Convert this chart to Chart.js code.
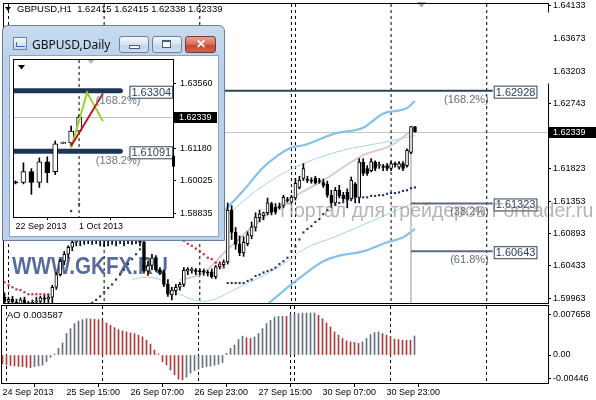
<!DOCTYPE html>
<html>
<head>
<meta charset="utf-8">
<script src="https://cdn.jsdelivr.net/npm/chart.js@4.4.0/dist/chart.umd.min.js"></script>
<style>
  body { margin: 0; width: 596px; height: 400px; overflow: hidden; background: #fff; position: relative; font-family: "Liberation Sans", Arial, sans-serif; }
  canvas { position: absolute; }
  #main { left: 0; top: 0; }
  #ao { left: 0; top: 305px; }
  #win { position: absolute; left: 2px; top: 25px; width: 221px; height: 214px; border: 1px solid #6b7f9c; border-radius: 6px 6px 0 0;
         background: linear-gradient(#c7daef, #b9d1ea 40px, #b9d1ea); }
  #wtitle { position: absolute; left: 29px; top: 10px; font: 12px "Noto Sans", "Liberation Sans", sans-serif; color: #111; }
  #wicon { position: absolute; left: 10px; top: 11px; width: 12px; height: 11px; border: 1px solid #6f8198; background: linear-gradient(#f4f8fc, #c9d9ea); }
  #wicon:after { content: ""; position: absolute; left: 2px; top: 4px; width: 8px; height: 4px; border-left: 1px solid #3c6fa8; border-bottom: 1px solid #3c6fa8; }
  .btn { position: absolute; top: 10px; height: 15px; border: 1px solid #6d7f9a; border-radius: 3px; background: linear-gradient(#f3f7fc, #d5e2f1 50%, #c2d4ea 51%, #cfdef0); }
  #bmin { left: 116px; width: 28px; }
  #bmax { left: 149px; width: 28px; }
  #bclose { left: 182px; width: 29px; border-color: #7a3a30; background: linear-gradient(#e9a596, #d46a55 50%, #c4452e 51%, #d2644c); color: #fff; font: bold 12px "Liberation Sans", sans-serif; text-align: center; line-height: 15px; }
  #bmin:after { content: ""; position: absolute; left: 9px; top: 8px; width: 9px; height: 2px; border: 1px solid #4a5d78; background: #fff; }
  #bmax:after { content: ""; position: absolute; left: 9px; top: 3px; width: 7px; height: 5px; border: 1px solid #4a5d78; border-top-width: 2px; background: #fff; }
  #client { position: absolute; left: 6px; top: 29px; width: 208px; height: 180px; background: #fff; border: 1px solid #8fa3bf; }
  #daily { left: 10px; top: 56px; }
</style>
</head>
<body>
<canvas id="main" width="596" height="307"></canvas>
<canvas id="ao" width="596" height="95"></canvas>
<div id="win">
  <div id="wicon"></div>
  <div id="wtitle">GBPUSD,Daily</div>
  <div class="btn" id="bmin"></div>
  <div class="btn" id="bmax"></div>
  <div class="btn" id="bclose">✕</div>
  <div id="client"></div>
</div>
<canvas id="daily" width="207" height="179"></canvas>
<script>
// ---------- GBPUSD H1, bar 0 = 24 Sep 2013 23:00 ----------
const h1Open = [
  1.5999, 1.5993, 1.5996, 1.5992, 1.5989, 1.5995, 1.5991, 1.5988, 1.5992, 1.5993,
  1.5998, 1.5996, 1.5999, 1.6013, 1.6031, 1.6050, 1.6060, 1.6070, 1.6077, 1.6085,
  1.6081, 1.6089, 1.6092, 1.6084, 1.6086, 1.6081, 1.6084, 1.6079, 1.6084, 1.6081,
  1.6082, 1.6085, 1.6079, 1.6084, 1.6081, 1.6077, 1.6036, 1.6044, 1.6055, 1.6038,
  1.6034, 1.6017, 1.6002, 1.6008, 1.6013, 1.6017, 1.6036, 1.6037, 1.6036, 1.6036,
  1.6035, 1.6033, 1.6035, 1.6028, 1.6042, 1.6045, 1.6049, 1.6123, 1.6091, 1.6074,
  1.6062, 1.6075, 1.6086, 1.6098, 1.6112, 1.6115, 1.6119, 1.6132, 1.6127, 1.6127,
  1.6129, 1.6137, 1.6134, 1.6140, 1.6155, 1.6168, 1.6167, 1.6165, 1.6168, 1.6164,
  1.6162, 1.6160, 1.6144, 1.6133, 1.6151, 1.6144, 1.6148, 1.6139, 1.6160, 1.6141,
  1.6191, 1.6182, 1.6179, 1.6191, 1.6186, 1.6184, 1.6186, 1.6182, 1.6188, 1.6184,
  1.6189, 1.6186, 1.6205, 1.62415
];
const h1High = [
  1.6005, 1.5999, 1.6000, 1.5996, 1.5998, 1.5999, 1.5993, 1.5995, 1.5999, 1.6000,
  1.6002, 1.6003, 1.6016, 1.6034, 1.6053, 1.6064, 1.6072, 1.6081, 1.6091, 1.6095,
  1.6098, 1.6100, 1.6098, 1.6091, 1.6093, 1.6089, 1.6088, 1.6086, 1.6089, 1.6086,
  1.6091, 1.6088, 1.6086, 1.6089, 1.6086, 1.6086, 1.6050, 1.6060, 1.6058, 1.6041,
  1.6037, 1.6024, 1.6013, 1.6017, 1.6020, 1.6041, 1.6041, 1.6041, 1.6040, 1.6039,
  1.6039, 1.6037, 1.6039, 1.6044, 1.6049, 1.6052, 1.6133, 1.6129, 1.6098, 1.6086,
  1.6085, 1.6092, 1.6106, 1.6119, 1.6123, 1.6120, 1.6140, 1.6134, 1.6132, 1.6133,
  1.6144, 1.6141, 1.6144, 1.6168, 1.6171, 1.6189, 1.6171, 1.6169, 1.6171, 1.6168,
  1.6167, 1.6164, 1.6151, 1.6155, 1.6158, 1.6148, 1.6153, 1.6170, 1.6162, 1.6196,
  1.6196, 1.6186, 1.6196, 1.6193, 1.6191, 1.6188, 1.6189, 1.6192, 1.6191, 1.6192,
  1.6192, 1.6210, 1.6242, 1.62415
];
const h1Low = [
  1.5988, 1.5985, 1.5988, 1.5982, 1.5984, 1.5986, 1.5981, 1.5979, 1.5986, 1.5988,
  1.5991, 1.5989, 1.5988, 1.6010, 1.6029, 1.6045, 1.6055, 1.6065, 1.6072, 1.6072,
  1.6074, 1.6075, 1.6074, 1.6075, 1.6072, 1.6071, 1.6072, 1.6074, 1.6072, 1.6075,
  1.6072, 1.6075, 1.6074, 1.6075, 1.6072, 1.6033, 1.6030, 1.6038, 1.6036, 1.6031,
  1.6014, 1.6000, 1.5995, 1.6002, 1.6009, 1.6014, 1.6031, 1.6033, 1.6031, 1.6031,
  1.6030, 1.6029, 1.6026, 1.6025, 1.6039, 1.6042, 1.6046, 1.6081, 1.6067, 1.6058,
  1.6057, 1.6072, 1.6082, 1.6093, 1.6106, 1.6109, 1.6116, 1.6116, 1.6117, 1.6124,
  1.6126, 1.6134, 1.6133, 1.6137, 1.6153, 1.6165, 1.6162, 1.6161, 1.6160, 1.6161,
  1.6155, 1.6141, 1.6129, 1.6130, 1.6140, 1.6136, 1.6126, 1.6136, 1.6133, 1.6133,
  1.6172, 1.6172, 1.6177, 1.6179, 1.6182, 1.6179, 1.6179, 1.6179, 1.6184, 1.6181,
  1.6179, 1.6184, 1.6203, 1.62338
];
const h1Close = [
  1.5993, 1.5996, 1.5992, 1.5989, 1.5995, 1.5991, 1.5988, 1.5992, 1.5993, 1.5998,
  1.5996, 1.5999, 1.6013, 1.6031, 1.6050, 1.6060, 1.6070, 1.6077, 1.6085, 1.6081,
  1.6089, 1.6092, 1.6084, 1.6086, 1.6081, 1.6084, 1.6079, 1.6084, 1.6081, 1.6082,
  1.6085, 1.6079, 1.6084, 1.6081, 1.6077, 1.6036, 1.6044, 1.6055, 1.6038, 1.6034,
  1.6017, 1.6003, 1.6009, 1.6013, 1.6017, 1.6037, 1.6039, 1.60375, 1.60355, 1.6035,
  1.60345, 1.6033, 1.6028, 1.6042, 1.6046, 1.6049, 1.6123, 1.6091, 1.6074, 1.6062,
  1.6077, 1.6088, 1.6099, 1.6113, 1.6117, 1.6119, 1.6133, 1.6120, 1.6120, 1.61265,
  1.6141, 1.61365, 1.6141, 1.6161, 1.6165, 1.6182, 1.6165, 1.6164, 1.6162, 1.61635,
  1.6158, 1.6144, 1.6133, 1.6151, 1.6143, 1.6139, 1.6137, 1.6165, 1.6141, 1.6191,
  1.6175, 1.6175, 1.6192, 1.6182, 1.61865, 1.61835, 1.6182, 1.6189, 1.61875, 1.6189,
  1.6182, 1.6208, 1.62415, 1.62339
];

// Awesome Oscillator histogram
const aoValues = [
  -0.00168, -0.00187, -0.00199, -0.00206, -0.00212, -0.00218, -0.00231, -0.00237, -0.00218, -0.00206,
  -0.00193, -0.00125, -0.00044, 0.00019, 0.00125, 0.00231, 0.00405, 0.00498, 0.00592, 0.00642,
  0.00667, 0.00685, 0.00679, 0.00673, 0.00667, 0.00642, 0.00604, 0.00561, 0.00517, 0.00480,
  0.00455, 0.00436, 0.00417, 0.00405, 0.00374, 0.00343, 0.00280, 0.00206, 0.00093, 0.00019,
  -0.00125, -0.00187, -0.00280, -0.00374, -0.00455, -0.00467, -0.00417, -0.00343, -0.00293, -0.00268,
  -0.00237, -0.00218, -0.00212, -0.00193, -0.00174, -0.00143, 0.00031, 0.00125, 0.00187, 0.00293,
  0.00355, 0.00324, 0.00312, 0.00343, 0.00405, 0.00498, 0.00592, 0.00654, 0.00716, 0.00729,
  0.00732, 0.00729, 0.00766, 0.00779, 0.00780, 0.00791, 0.00792, 0.00793, 0.00794, 0.00748,
  0.00685, 0.00604, 0.00530, 0.00436, 0.00374, 0.00312, 0.00268, 0.00249, 0.00237, 0.00218,
  0.00249, 0.00312, 0.00386, 0.00424, 0.00436, 0.00405, 0.00374, 0.00343, 0.00299, 0.00293,
  0.00280, 0.00278, 0.00276, 0.003587
];

// dotted trailing indicator: red above price, navy below
const dotsRed = [
  1.6020, 1.6016, 1.6013, 1.6010, 1.6009, 1.6006, 1.6003, 1.6003, 1.6003, 1.6003,
  1.6003, 1.6003, null, null, null, null, null, null, null, null,
  null, null, null, null, null, null, null, null, null, null,
  null, null, null, null, null, 1.6100, 1.6099, 1.6098, 1.6096, 1.6095,
  1.6093, 1.6092, 1.6089, 1.6086, 1.6084, 1.6079, 1.6075, 1.6072, 1.6068, 1.6064,
  1.6060, 1.6055, 1.6053, 1.6048, 1.6046, 1.6041, null, null, null, null,
  null, null, null, null, null, null, null, null, null, null,
  null, null, null, null, null, null, null, null, null, null,
  null, null, null, null, null, null, null, null, null, null,
  null, null, null, null, null, null, null, null, null, null,
  null, null, null, null
];
const dotsBlue = [
  null, null, null, null, null, null, null, null, null, null,
  null, null, 1.5974, 1.5975, 1.5977, 1.5978, 1.5979, 1.5981, 1.5982, 1.5984,
  1.5986, 1.5988, 1.5991, 1.5995, 1.6000, 1.6006, 1.6012, 1.6017, 1.6024, 1.6031,
  1.6038, 1.6046, 1.6053, 1.6060, 1.6067, null, null, null, null, null,
  null, null, null, null, null, null, null, null, null, null,
  null, null, null, null, null, null, 1.6019, 1.6019, 1.6019, 1.6019,
  1.6019, 1.6022, 1.6024, 1.6029, 1.6031, 1.6034, 1.6036, 1.6038, 1.6041, 1.6046,
  1.6050, 1.6055, 1.6064, 1.6071, 1.6081, 1.6091, 1.6096, 1.6100, 1.6106, 1.6110,
  1.6117, 1.6123, 1.6127, 1.6130, 1.6133, 1.6134, 1.6137, 1.6139, 1.6140, 1.6140,
  1.6141, 1.6141, 1.6143, 1.6143, 1.6144, 1.6144, 1.6146, 1.6147, 1.6147, 1.6148,
  1.6150, 1.6151, 1.6154, 1.6155
];

// band lines, read at a few bars
const envUpperBars = [50, 56, 60, 65, 72, 75, 83, 90, 95, 101, 103];
const envUpperVals = [1.6098, 1.6127, 1.6151, 1.6184, 1.6212, 1.6215, 1.6232, 1.6240, 1.6260, 1.6268, 1.6278];
const envLowerBars = [60, 66, 70, 74, 80, 84, 90, 96, 100, 103];
const envLowerVals = [1.5961, 1.5989, 1.6008, 1.6026, 1.6050, 1.6058, 1.6064, 1.6077, 1.6084, 1.6096];
const bbUpperBars = [50, 56, 65, 75, 85, 95, 103];
const bbUpperVals = [1.6081, 1.6116, 1.6158, 1.6189, 1.6208, 1.6219, 1.6229];
const bbLowerBars = [32, 35, 39, 41, 44, 47, 50, 54, 57, 63, 70, 75, 83, 90, 103];
const bbLowerVals = [1.6024, 1.6027, 1.6024, 1.6013, 1.6003, 1.5996, 1.5993, 1.5999, 1.6008, 1.6024, 1.6046, 1.6067, 1.6085, 1.6102, 1.6134];
const maBars = [44, 50, 56, 62, 70, 80, 90, 97, 103];
const maVals = [1.6023, 1.6034, 1.6067, 1.6098, 1.6133, 1.6165, 1.6201, 1.6215, 1.6240];

// fibo expansion object
const fiboLevels = [1.62928, 1.61323, 1.60643];
const fiboText = ['(168.2%)', '(38.2%)', '(61.8%)'];
const fiboFrom = [-2, 102, 102];
const fiboTo = 122.5;
const fiboBaseBar = 102;
const fiboBaseTop = 1.6205;

const separatorBars = [1, 25, 49, 72, 73, 97, 121];
const xTickBars = [0, 16, 32, 48, 64, 80, 96];
const xTickLabels = ['24 Sep 2013', '25 Sep 15:00', '26 Sep 07:00', '26 Sep 23:00', '27 Sep 15:00', '30 Sep 07:00', '30 Sep 23:00'];
const priceTicks = [1.64133, 1.63673, 1.63203, 1.62743, 1.62283, 1.61823, 1.61353, 1.60893, 1.60433, 1.59963];
const aoTicks = [0.007658, 0, -0.00446];
const aoTickLabels = ['0.007658', '0.00', '-0.00446'];
const axisMark = [1.6404, 1.6303];

// ---------- GBPUSD Daily (inset), bar 0 = 22 Sep 2013 ----------
const dOpen = [1.5998, 1.5995, 1.6035, 1.5995, 1.6071, 1.6035, 1.6138, 1.6140, 1.6183];
const dHigh = [1.6001, 1.6067, 1.6046, 1.6085, 1.6089, 1.6147, 1.6143, 1.6201, 1.62415];
const dLow = [1.5990, 1.5990, 1.5952, 1.5977, 1.5995, 1.6024, 1.6137, 1.6129, 1.6181];
const dClose = [1.5994, 1.6035, 1.5995, 1.6071, 1.6031, 1.6136, 1.6140, 1.6183, 1.62339];
const dTicks = [1.63560, 1.62370, 1.61180, 1.60025, 1.58835];
const dXTicks = [0, 8];
const dXLabels = ['22 Sep 2013', '1 Oct 2013'];
const dFibo = [1.63304, 1.61091];
const dFiboText = ['(168.2%)', '(138.2%)'];
const dFiboEnd = 13.2;
const dGreenBars = [7, 9, 11];
const dGreenVals = [1.61215, 1.63235, 1.62189];
const dRedBars = [7, 11];
const dRedVals = [1.61287, 1.63199];
const dDotBars = [7, 8];
const dDotVals = [1.58906, 1.59159];
const dSeparator = 8;
const dAxisMark = [1.6093, 1.6053];

const FONT = '"Liberation Sans", Arial, sans-serif';
Chart.defaults.font.family = FONT;
Chart.defaults.font.size = 9;
Chart.defaults.color = '#000';

const pts = (xs, ys) => xs.map((x, i) => ({ x: x, y: ys[i] }));
const lastClose = h1Close[h1Close.length - 1];

function candleSets(o, h, l, c, bodyW) {
  const wicks = o.map((_, i) => ({ x: i, y: [l[i], h[i]] }));
  const bodies = o.map((_, i) => ({ x: i, y: [Math.min(o[i], c[i]), Math.max(o[i], c[i])] }));
  const fills = o.map((_, i) => c[i] > o[i] ? '#ffffff' : '#000000');
  return [
    { type: 'bar', data: wicks, backgroundColor: '#000', barThickness: 1, grouped: false, order: 8 },
    { type: 'bar', data: bodies, backgroundColor: fills, borderColor: '#000', borderWidth: 1, borderSkipped: false,
      barThickness: bodyW, minBarLength: 1, grouped: false, order: 7 }
  ];
}

function lineSet(xs, ys, color, width, order) {
  return { type: 'line', data: pts(xs, ys), borderColor: color, borderWidth: width, pointRadius: 0,
           tension: 0.4, cubicInterpolationMode: 'monotone', order: order };
}

function dotSet(vals, color) {
  return { type: 'line', data: vals.map((v, i) => ({ x: i, y: v })), showLine: false, pointRadius: 1.5,
           pointStyle: 'rect', pointBackgroundColor: color, pointBorderWidth: 0, order: 5 };
}

function priceBox(ctx, x, y, text, color) {
  ctx.font = '11px ' + FONT;
  const w = ctx.measureText(text).width + 3;
  ctx.fillStyle = '#fff';
  ctx.fillRect(x, y - 6, w, 13);
  ctx.strokeStyle = color;
  ctx.lineWidth = 1;
  ctx.strokeRect(x + 0.5, y - 5.5, w, 12);
  ctx.fillStyle = color;
  ctx.textAlign = 'left';
  ctx.textBaseline = 'middle';
  ctx.fillText(text, x + 2, y + 1);
}

function triangle(ctx, x, y, w, color) {
  ctx.fillStyle = color;
  ctx.beginPath();
  ctx.moveTo(x, y);
  ctx.lineTo(x + w, y);
  ctx.lineTo(x + w / 2, y + w / 2 + 1);
  ctx.closePath();
  ctx.fill();
}

function drawSeparators(ctx, xs, area, bars) {
  ctx.save();
  ctx.strokeStyle = '#000';
  ctx.lineWidth = 1;
  ctx.setLineDash([3, 3]);
  bars.forEach(b => {
    const px = xs.getPixelForValue(b);
    if (px < area.left || px > area.right) return;
    ctx.beginPath();
    ctx.moveTo(px, area.top);
    ctx.lineTo(px, area.bottom);
    ctx.stroke();
  });
  ctx.restore();
}

function frame(ctx, a) {
  ctx.strokeStyle = '#000';
  ctx.lineWidth = 1;
  ctx.strokeRect(Math.round(a.left) - 0.5, Math.round(a.top) - 0.5, Math.round(a.right - a.left) + 1, Math.round(a.bottom - a.top) + 1);
}

const fixY = w => s => { s.width = w; s.paddingTop = 0; s.paddingBottom = 0; };
const fixX = h => s => { s.height = h; s.paddingLeft = 0; s.paddingRight = 0; };

// ---------- main H1 chart ----------
const mainDecor = {
  id: 'mainDecor',
  beforeDatasetsDraw(chart) {
    const { ctx, chartArea: a, scales: { x, y } } = chart;
    ctx.save();
    ctx.font = 'bold 24px ' + FONT;
    ctx.fillStyle = 'rgba(58,82,138,0.85)';
    ctx.textAlign = 'left';
    ctx.textBaseline = 'alphabetic';
    ctx.translate(12, 274);
    ctx.scale(0.86, 1);
    ctx.fillText('WWW.GKFX.RU', 0, 0);
    ctx.setTransform(1, 0, 0, 1, 0, 0);
    const by = Math.round(y.getPixelForValue(lastClose)) + 0.5;
    ctx.strokeStyle = '#c4c4c4';
    ctx.lineWidth = 1;
    ctx.beginPath();
    ctx.moveTo(a.left, by);
    ctx.lineTo(a.right, by);
    ctx.stroke();
    ctx.restore();
    drawSeparators(ctx, x, a, separatorBars);
  },
  afterDatasetsDraw(chart) {
    const { ctx, chartArea: a, scales: { x, y } } = chart;
    ctx.save();
    const endPx = x.getPixelForValue(fiboTo);
    fiboLevels.forEach((lv, k) => {
      const py = y.getPixelForValue(lv);
      ctx.font = '11px ' + FONT;
      ctx.fillStyle = '#5f6b78';
      ctx.textAlign = 'right';
      ctx.textBaseline = 'middle';
      ctx.fillText(fiboText[k], endPx - 4, py + 9);
      priceBox(ctx, endPx + 1, py + 1, lv.toFixed(5), '#2c4259');
    });
    triangle(ctx, 417, 2, 9, '#a8a8a8');
    frame(ctx, a);
    ctx.restore();
  },
  afterDraw(chart) {
    const { ctx, chartArea: a, scales: { y } } = chart;
    ctx.save();
    // bid price box
    const by = y.getPixelForValue(lastClose);
    ctx.fillStyle = '#000';
    ctx.fillRect(a.right + 1, Math.round(by) - 5, 48, 11);
    ctx.fillStyle = '#fff';
    ctx.font = '9px ' + FONT;
    ctx.textAlign = 'left';
    ctx.textBaseline = 'middle';
    ctx.fillText(lastClose.toFixed(5), a.right + 5, Math.round(by) + 0.5);
    // mark on the price axis
    const t = y.getPixelForValue(axisMark[0]), b = y.getPixelForValue(axisMark[1]);
    ctx.fillRect(a.right, t, 3, b - t);
    // header
    triangle(ctx, 5, 7, 6, '#000');
    ctx.fillStyle = '#000';
    ctx.font = '9.5px ' + FONT;
    const n = h1Close.length - 1;
    ctx.fillText('GBPUSD,H1  ' + [h1Open[n], h1High[n], h1Low[n], h1Close[n]].map(v => v.toFixed(5)).join(' '), 17, 9);
    // site watermark over everything
    ctx.font = '19.5px ' + FONT;
    ctx.fillStyle = 'rgba(130,130,130,0.6)';
    ctx.fillText('Портал для трейдеров Fortrader.ru', 280, 212);
    ctx.restore();
  }
};

new Chart(document.getElementById('main'), {
  type: 'bar',
  data: {
    datasets: [
      lineSet(envUpperBars, envUpperVals, '#86c2e6', 2.2, 20),
      lineSet(envLowerBars, envLowerVals, '#86c2e6', 2.2, 20),
      lineSet(bbUpperBars, bbUpperVals, '#a9d3ec', 1, 19),
      lineSet(bbLowerBars, bbLowerVals, '#a9d3ec', 1, 19),
      lineSet(maBars, maVals, '#d8cccc', 2, 18),
      { type: 'line', data: fiboLevels.map((lv, k) => [{ x: fiboFrom[k], y: lv }, { x: fiboTo, y: lv }, { x: null, y: null }]).flat(),
        borderColor: '#3a4f66', borderWidth: 2, pointRadius: 0, spanGaps: false, order: 15,
        segment: { borderColor: c => c.p0.parsed.y > 1.62 ? '#2d4358' : '#5c6b80' } },
      { type: 'line', data: [{ x: fiboBaseBar, y: fiboBaseTop }, { x: fiboBaseBar, y: 1.59 }],
        borderColor: '#c9c9c9', borderWidth: 2, pointRadius: 0, order: 16 },
      ...candleSets(h1Open, h1High, h1Low, h1Close, 3),
      dotSet(dotsRed, '#c62a2a'),
      dotSet(dotsBlue, '#1f355a')
    ]
  },
  options: {
    responsive: false, animation: false, events: [],
    layout: { padding: { left: 2, top: 2, right: 0, bottom: 3 } },
    plugins: { legend: { display: false }, tooltip: { enabled: false } },
    scales: {
      x: { type: 'linear', min: -0.125, max: 136.375, offset: false, display: false },
      y: {
        type: 'linear', position: 'right', min: 1.59906, max: 1.64161,
        afterFit: fixY(48),
        afterBuildTicks: s => { s.ticks = priceTicks.map(v => ({ value: v })); },
        ticks: { autoSkip: false, padding: 2, callback: v => v.toFixed(5) },
        grid: { drawOnChartArea: false, tickLength: 3, color: '#000' },
        border: { display: false }
      }
    }
  },
  plugins: [mainDecor]
});

// ---------- AO panel ----------
const aoDecor = {
  id: 'aoDecor',
  beforeDatasetsDraw(chart) {
    drawSeparators(chart.ctx, chart.scales.x, chart.chartArea, separatorBars);
  },
  afterDraw(chart) {
    const { ctx, chartArea: a } = chart;
    ctx.save();
    frame(ctx, a);
    ctx.fillStyle = '#000';
    ctx.font = '9.5px ' + FONT;
    ctx.textAlign = 'left';
    ctx.textBaseline = 'middle';
    ctx.fillText('AO ' + aoValues[aoValues.length - 1].toFixed(6), 7, a.top + 9);
    ctx.restore();
  }
};

new Chart(document.getElementById('ao'), {
  type: 'bar',
  data: {
    datasets: [{
      data: aoValues.map((v, i) => ({ x: i, y: v })),
      backgroundColor: aoValues.map((v, i) => (i === 0 || v < aoValues[i - 1]) ? '#b3383a' : '#66707e'),
      barThickness: 1, grouped: false
    }]
  },
  options: {
    responsive: false, animation: false, events: [],
    layout: { padding: { left: 2, top: 1, right: 0, bottom: 0 } },
    plugins: { legend: { display: false }, tooltip: { enabled: false } },
    scales: {
      x: {
        type: 'linear', min: -0.125, max: 136.375, offset: false,
        afterFit: fixX(17),
        afterBuildTicks: s => { s.ticks = xTickBars.map(v => ({ value: v })); },
        ticks: { autoSkip: false, maxRotation: 0, align: 'start', padding: 0, callback: (v, i) => xTickLabels[i] },
        grid: { drawOnChartArea: false, tickLength: 4, color: '#000' },
        border: { display: false }
      },
      y: {
        type: 'linear', position: 'right', min: -0.00528, max: 0.009245,
        afterFit: fixY(48),
        afterBuildTicks: s => { s.ticks = aoTicks.map(v => ({ value: v })); },
        ticks: { autoSkip: false, padding: 2, callback: (v, i) => aoTickLabels[i] },
        grid: { drawOnChartArea: false, tickLength: 3, color: '#000' },
        border: { display: false }
      }
    }
  },
  plugins: [aoDecor]
});

// ---------- Daily inset ----------
const dLast = dClose[dClose.length - 1];
const dailyDecor = {
  id: 'dailyDecor',
  beforeDatasetsDraw(chart) {
    const { ctx, chartArea: a, scales: { x, y } } = chart;
    ctx.save();
    const by = Math.round(y.getPixelForValue(dLast)) + 0.5;
    ctx.strokeStyle = '#c4c4c4';
    ctx.lineWidth = 1;
    ctx.beginPath();
    ctx.moveTo(a.left, by);
    ctx.lineTo(a.right, by);
    ctx.stroke();
    ctx.restore();
    drawSeparators(ctx, x, a, [dSeparator]);
  },
  afterDatasetsDraw(chart) {
    const { ctx, chartArea: a, scales: { x, y } } = chart;
    ctx.save();
    const endPx = x.getPixelForValue(dFiboEnd);
    dFibo.forEach((lv, k) => {
      const py = y.getPixelForValue(lv);
      ctx.font = '11px ' + FONT;
      ctx.fillStyle = '#6a7785';
      ctx.textAlign = 'right';
      ctx.textBaseline = 'middle';
      ctx.fillText(dFiboText[k], endPx + 20, py + 10);
      priceBox(ctx, endPx + 9, py + 1, lv.toFixed(5), '#2c4259');
    });
    triangle(ctx, 8, 9, 7, '#000');
    triangle(ctx, 77, 3, 8, '#b4b4b4');
    frame(ctx, a);
    ctx.restore();
  },
  afterDraw(chart) {
    const { ctx, chartArea: a, scales: { y } } = chart;
    ctx.save();
    const by = Math.round(y.getPixelForValue(dLast));
    ctx.fillStyle = '#000';
    ctx.fillRect(a.right + 1, by - 5, 43, 11);
    ctx.fillStyle = '#fff';
    ctx.font = '9px ' + FONT;
    ctx.textAlign = 'left';
    ctx.textBaseline = 'middle';
    ctx.fillText(dLast.toFixed(5), a.right + 6, by + 0.5);
    const t = y.getPixelForValue(dAxisMark[0]), b = y.getPixelForValue(dAxisMark[1]);
    ctx.fillStyle = '#000';
    ctx.fillRect(a.right - 1, t, 3, b - t);
    ctx.restore();
  }
};

new Chart(document.getElementById('daily'), {
  type: 'bar',
  data: {
    datasets: [
      { type: 'line', data: dFibo.map(lv => [{ x: -1, y: lv }, { x: dFiboEnd, y: lv }, { x: null, y: null }]).flat(),
        borderColor: '#1e3656', borderWidth: 5, borderCapStyle: 'round', pointRadius: 0, spanGaps: false, order: 12 },
      ...candleSets(dOpen, dHigh, dLow, dClose, 5),
      { type: 'line', data: pts(dGreenBars, dGreenVals), borderColor: '#9bd13a', borderWidth: 2, pointRadius: 0, order: 3 },
      { type: 'line', data: pts(dRedBars, dRedVals), borderColor: '#b81e1e', borderWidth: 2, pointRadius: 0, order: 2 },
      { type: 'line', data: pts(dDotBars, dDotVals), showLine: false, pointRadius: 1.5, pointStyle: 'rect',
        pointBackgroundColor: '#1f355a', pointBorderWidth: 0, order: 4 }
    ]
  },
  options: {
    responsive: false, animation: false, events: [],
    layout: { padding: { left: 3, top: 2, right: 0, bottom: 0 } },
    plugins: { legend: { display: false }, tooltip: { enabled: false } },
    scales: {
      x: {
        type: 'linear', min: -0.1875, max: 19.8125, offset: false,
        afterFit: fixX(18),
        afterBuildTicks: s => { s.ticks = dXTicks.map(v => ({ value: v })); },
        ticks: { autoSkip: false, maxRotation: 0, align: 'start', padding: 1, callback: (v, i) => dXLabels[i] },
        grid: { drawOnChartArea: false, tickLength: 3, color: '#000' },
        border: { display: false }
      },
      y: {
        type: 'linear', position: 'right', min: 1.58691, max: 1.64426,
        afterFit: fixY(44),
        afterBuildTicks: s => { s.ticks = dTicks.map(v => ({ value: v })); },
        ticks: { autoSkip: false, padding: 4, callback: v => v.toFixed(5) },
        grid: { drawOnChartArea: false, tickLength: 3, color: '#000' },
        border: { display: false }
      }
    }
  },
  plugins: [dailyDecor]
});
</script>
</body>
</html>
